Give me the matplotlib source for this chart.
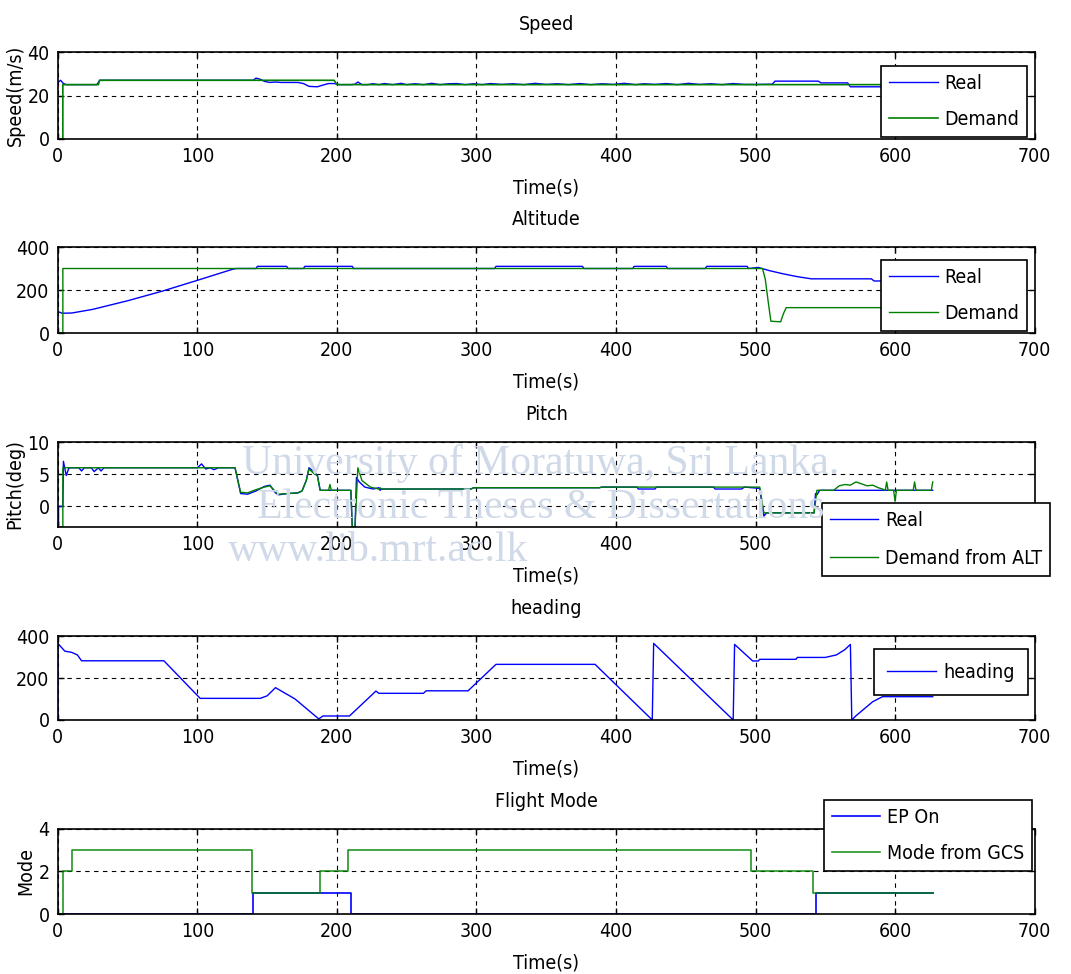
import matplotlib
matplotlib.use("Agg")
import matplotlib.pyplot as plt
from matplotlib import font_manager

# Police étroite si disponible (rendu MATLAB serré)
etroites = [f for f in font_manager.fontManager.ttflist
            if ('Narrow' in f.name or 'Condensed' in f.name
                or str(f.stretch) in ('condensed', 'semi-condensed', '75', '87'))
            and 'Mono' not in f.name and 'Serif' not in f.name and f.weight in (400, 'normal', 'regular')]
if etroites:
    police = etroites[0].name
    plt.rcParams['font.stretch'] = etroites[0].stretch
else:
    police = "Liberation Sans"
plt.rcParams['font.family'] = [police, 'Liberation Sans', 'DejaVu Sans']
TAILLE = 14

BLEU = (0, 0, 1)
VERT = (0, 0.5, 0)

# ---- Vitesse ----
speed_dem_t = [0, 3.6, 3.6, 29, 30, 198, 200, 627]
speed_dem_v = [0, 0, 25, 25, 27, 27, 25, 25]
speed_real_t = [0, 2, 4, 6, 28, 30, 140, 142, 145, 148, 152, 156, 160, 172, 176, 180, 186, 190, 194, 198,
                202, 210, 213, 215, 218, 222, 226, 230, 234, 240, 246, 250, 256, 262, 268, 274, 280, 286,
                292, 298, 304, 310, 318, 326, 334, 342, 350, 358, 366, 374, 382, 390, 398, 406, 414, 420,
                428, 436, 444, 452, 460, 468, 476, 484, 492, 500, 512, 514, 545, 547, 566, 568, 627]
speed_real_v = [26, 27, 25.5, 25, 25, 27, 27, 28, 27.5, 26.5, 26, 26.2, 26, 26, 25.5, 24.2, 24, 24.8, 25.5, 25.5,
                25, 25, 25.2, 26.2, 25, 25, 25.4, 25, 25.5, 25, 25.6, 25, 25.4, 25, 25.6, 25, 25.4, 25.5,
                25, 25.4, 25, 25.5, 25.1, 25.4, 25, 25.6, 25.1, 25.4, 25, 25.5, 25, 25.4, 25.1, 25.6, 25, 25.4,
                25.1, 25.5, 25, 25.6, 25.1, 25.4, 25, 25.5, 25.1, 25.1, 25.2, 26.6, 26.6, 25.8, 25.8, 24, 24]

# ---- Altitude ----
alt_dem_t = [0, 3.6, 3.6, 505, 507, 509, 511, 518, 520, 522, 627]
alt_dem_v = [0, 0, 300, 300, 250, 150, 55, 52, 90, 118, 118]
alt_real_t = [0, 3, 10, 25, 50, 75, 100, 125, 128, 142, 143, 164, 165, 176, 177, 211, 212, 313, 314, 376,
              377, 412, 413, 436, 437, 464, 465, 494, 495, 502, 510, 520, 530, 540, 583, 585, 627]
alt_real_v = [100, 92, 93, 110, 150, 195, 245, 296, 300, 300, 310, 310, 300, 300, 310, 310, 300, 300, 310, 310,
              300, 300, 310, 310, 300, 300, 310, 310, 300, 305, 290, 275, 262, 252, 252, 242, 242]

# ---- Tangage ----
pitch_dem_t = [0, 3.6, 3.6, 127, 131, 136, 142, 148, 152, 156, 158, 165, 172, 175, 178, 180, 184, 186,
               188, 194, 195, 196, 210, 211, 213, 215, 218, 224, 230, 231, 232, 296, 298, 388, 390, 503,
               506, 542, 544, 556, 560, 564, 568, 572, 576, 580, 584, 588, 591, 593, 594, 595, 599, 600,
               601, 613, 614, 615, 626, 627]
pitch_dem_v = [-3.2, -3.2, 6, 6, 2.2, 2.1, 2.6, 3.0, 3.2, 2.3, 1.9, 2.0, 2.1, 2.4, 4.0, 5.8, 5.0, 4.8,
               2.5, 2.5, 3.4, 2.5, 2.5, -3.2, -3.2, 6.0, 4.0, 3.0, 2.7, 2.9, 2.7, 2.7, 2.9, 2.9, 3.0, 3.0,
               -1.0, -1.0, 2.5, 2.5, 3.2, 3.4, 3.3, 3.8, 3.5, 3.2, 3.3, 2.9, 2.7, 2.5, 3.8, 2.5, 2.5, 0.8,
               2.5, 2.5, 3.8, 2.5, 2.5, 3.8]
pitch_real_t = [0, 0.5, 0.5, 3.6, 4, 6, 8, 15, 17, 19, 24, 26, 29, 31, 33, 100, 103, 106, 109, 112, 115,
                118, 127, 131, 136, 142, 148, 152, 156, 158, 165, 172, 175, 178, 180, 184, 186, 188, 210,
                211, 213, 214, 216, 220, 226, 230, 231, 232, 296, 298, 388, 390, 415, 416, 428, 429, 470,
                471, 490, 492, 503, 506, 508, 542, 543, 544, 546, 627]
pitch_real_v = [-3.2, -3.2, 0, 0, 7.0, 4.8, 6.0, 6.0, 5.5, 6.0, 6.0, 5.4, 6.0, 5.5, 6.0, 6.0, 6.6, 5.8,
                6.0, 5.7, 6.0, 6.0, 6.0, 2.0, 1.9, 2.4, 3.1, 3.3, 2.1, 1.8, 2.0, 2.1, 2.4, 4.0, 6.0, 5.3,
                4.8, 2.5, 2.5, -3.2, -3.2, 4.5, 3.8, 3.0, 2.7, 2.9, 2.5, 2.7, 2.7, 2.9, 2.9, 3.0, 3.0, 2.7,
                2.7, 3.0, 3.0, 2.7, 2.7, 3.0, 2.8, -1.5, -1.0, -1.0, 2.0, 1.8, 2.5, 2.5]

# ---- Cap ----
head_t = [0, 0, 5, 10, 14, 17, 76, 102, 145, 150, 156, 170, 187, 190, 209, 228, 230, 262, 264, 294, 314,
          385, 426, 427, 484, 485, 498, 502, 503, 529, 530, 550, 558, 564, 568, 569, 572, 577, 584, 591, 627]
head_v = [0, 365, 328, 322, 310, 282, 282, 103, 103, 115, 154, 100, 5, 19, 19, 138, 127, 127, 139, 139, 265,
          265, 0, 365, 0, 360, 281, 281, 289, 289, 298, 298, 310, 335, 360, 0, 20, 48, 87, 111, 111]

# ---- Mode de vol ----
mode_gcs_t = [0, 3.8, 10, 139, 188, 208, 497, 541, 627]
mode_gcs_v = [0, 2, 3, 1, 2, 3, 2, 1, 1]
mode_ep_t = [0, 140, 210, 543, 627]
mode_ep_v = [0, 1, 0, 1, 1]

fig = plt.figure(figsize=(10.71, 9.74), dpi=100)

gauche, largeur = 0.054, 0.912
rects = [
    [gauche, 0.8573, largeur, 0.0893],
    [gauche, 0.6581, largeur, 0.0883],
    [gauche, 0.4589, largeur, 0.0873],
    [gauche, 0.2608, largeur, 0.0862],
    [gauche, 0.0616, largeur, 0.0873],
]
axes = [fig.add_axes(r) for r in rects]


def style_axe(ax, titre, ylabel, ylim, yticks):
    ax.set_xlim(0, 700)
    ax.set_xticks(range(0, 701, 100))
    ax.set_ylim(*ylim)
    ax.set_yticks(yticks)
    ax.set_title(titre, pad=16, fontsize=TAILLE)
    ax.set_xlabel("Time(s)", labelpad=9, fontsize=TAILLE)
    if ylabel:
        ax.set_ylabel(ylabel, labelpad=2, fontsize=TAILLE)
    ax.grid(True, color='black', linestyle=(0, (4, 4)), linewidth=0.8)
    ax.tick_params(direction='in', top=True, right=True, length=4, width=1, labelsize=TAILLE, pad=6)
    for s in ax.spines.values():
        s.set_linewidth(1.2)


def legende(ax, x_droite, y_haut, **kw):
    leg = ax.legend(loc='upper right', bbox_to_anchor=(x_droite / 1071, 1 - y_haut / 974),
                    bbox_transform=fig.transFigure, borderaxespad=0, fancybox=False,
                    edgecolor='black', framealpha=1, handlelength=2.5, handletextpad=0.35,
                    fontsize=TAILLE, **kw)
    leg.get_frame().set_linewidth(1.2)
    return leg


# Vitesse
ax = axes[0]
ax.plot(speed_real_t, speed_real_v, color=BLEU, lw=1, label='Real')
ax.plot(speed_dem_t, speed_dem_v, color=VERT, lw=1.2, label='Demand')
style_axe(ax, 'Speed', 'Speed(m/s)', (0, 40), [0, 20, 40])
legende(ax, 1027, 66, labelspacing=0.9)

# Altitude
ax = axes[1]
ax.plot(alt_real_t, alt_real_v, color=BLEU, lw=1, label='Real')
ax.plot(alt_dem_t, alt_dem_v, color=VERT, lw=1, label='Demand')
style_axe(ax, 'Altitude', None, (0, 400), [0, 200, 400])
legende(ax, 1027, 260, labelspacing=0.9)

# Tangage
ax = axes[2]
ax.plot(pitch_real_t, pitch_real_v, color=BLEU, lw=1, label='Real')
ax.plot(pitch_dem_t, pitch_dem_v, color=VERT, lw=1, label='Demand from ALT')
style_axe(ax, 'Pitch', 'Pitch(deg)', (-3.2, 10), [0, 5, 10])
legende(ax, 1050, 503, labelspacing=1.0)

# Cap
ax = axes[3]
ax.plot(head_t, head_v, color=BLEU, lw=1, label='heading')
style_axe(ax, 'heading', None, (0, 400), [0, 200, 400])
legende(ax, 1028, 649, borderpad=0.7)

# Mode de vol
ax = axes[4]
ax.step(mode_ep_t, mode_ep_v, where='post', color=BLEU, lw=1.2, label='EP On')
ax.step(mode_gcs_t, mode_gcs_v, where='post', color=VERT, lw=1.2, alpha=0.85, label='Mode from GCS')
style_axe(ax, 'Flight Mode', 'Mode', (0, 4), [0, 2, 4])
legende(ax, 1032, 800, labelspacing=0.9)

# Filigrane de l'université
wm = dict(family=['Liberation Serif', 'DejaVu Serif'], fontsize=30, color='#cfd9e8', zorder=0)
fig.text(0.505, 1 - 463 / 974, 'University of Moratuwa, Sri Lanka.', ha='center', va='center', **wm)
fig.text(0.505, 1 - 508 / 974, 'Electronic Theses & Dissertations', ha='center', va='center', **wm)
fig.text(0.213, 1 - 551 / 974, 'www.lib.mrt.ac.lk', ha='left', va='center', **wm)

fig.savefig("out.png", dpi=100)
